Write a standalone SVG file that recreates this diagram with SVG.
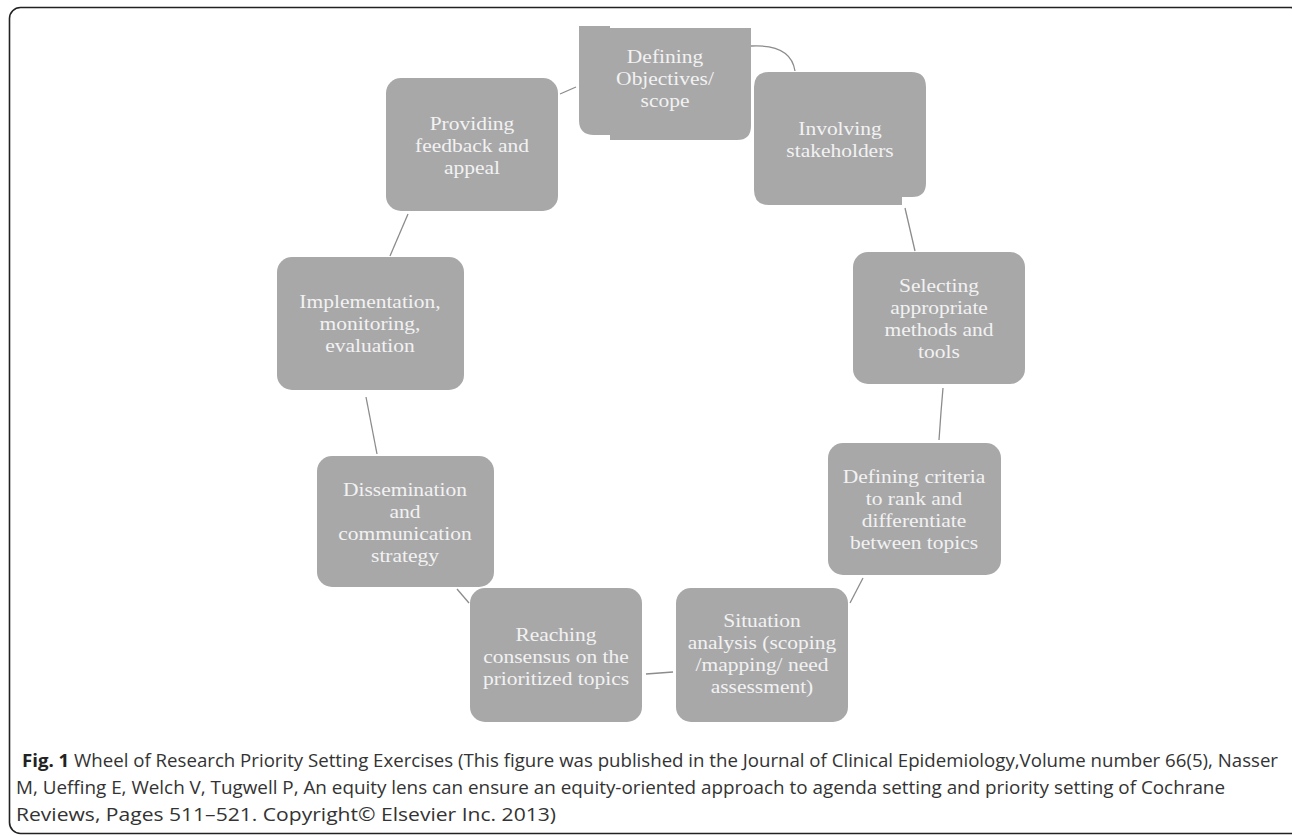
<svg xmlns="http://www.w3.org/2000/svg" width="1292" height="835" viewBox="0 0 1292 835">
<style>
.box{fill:#a8a8a9;}
.lbl{font-family:"Liberation Serif","Times New Roman",serif;font-size:19.8px;fill:#f2f2f2;text-anchor:middle;}
.con{fill:none;stroke:#8c8c8c;stroke-width:1.3;}
.cap{font-family:"Open Sans","Noto Sans",sans-serif;font-size:17.5px;fill:#333;}
</style>
<rect x="9.5" y="7.5" width="1292" height="826" rx="11" fill="#fff" stroke="#222" stroke-width="1.6"/>
<g id="connectors">
<path class="con" d="M560,94 L576,87"/>
<path class="con" d="M751,46 Q791,44 795,71"/>
<path class="con" d="M905,208 L915,251"/>
<path class="con" d="M943,388 L941,412 L939,440"/>
<path class="con" d="M863,578 L850,603"/>
<path class="con" d="M646,674 L673,672"/>
<path class="con" d="M457,589 L469,603"/>
<path class="con" d="M366,397 L377,454"/>
<path class="con" d="M408,214 L390,256"/>
</g>
<g id="n-objectives">
<path class="box" d="M579,26 H610 V28 H751 V126 Q751,140 737,140 H610 V135 H594 Q579,135 579,120 Z"/>
<g transform="translate(665,0) scale(1.085,1)">
<text class="lbl" x="0" y="63">Defining</text>
<text class="lbl" x="0" y="85">Objectives/</text>
<text class="lbl" x="0" y="107">scope</text>
</g>
</g>
<g id="n-stakeholders">
<path class="box" d="M769,72 H911 Q926,72 926,87 V183 Q926,197 912,197 H902 V205 H769 Q754,205 754,190 V87 Q754,72 769,72 Z"/>
<g transform="translate(840,0) scale(1.085,1)">
<text class="lbl" x="0" y="135.5">Involving</text>
<text class="lbl" x="0" y="157.5">stakeholders</text>
</g>
</g>
<g id="n-methods">
<rect class="box" x="853" y="252" width="172" height="132" rx="15"/>
<g transform="translate(939,0) scale(1.085,1)">
<text class="lbl" x="0" y="292">Selecting</text>
<text class="lbl" x="0" y="314">appropriate</text>
<text class="lbl" x="0" y="336">methods and</text>
<text class="lbl" x="0" y="358">tools</text>
</g>
</g>
<g id="n-criteria">
<rect class="box" x="828" y="443" width="173" height="132" rx="15"/>
<g transform="translate(914,0) scale(1.085,1)">
<text class="lbl" x="0" y="483">Defining criteria</text>
<text class="lbl" x="0" y="505">to rank and</text>
<text class="lbl" x="0" y="527">differentiate</text>
<text class="lbl" x="0" y="549">between topics</text>
</g>
</g>
<g id="n-situation">
<rect class="box" x="676" y="588" width="172" height="134" rx="15"/>
<g transform="translate(762,0) scale(1.085,1)">
<text class="lbl" x="0" y="627">Situation</text>
<text class="lbl" x="0" y="649">analysis (scoping</text>
<text class="lbl" x="0" y="671">/mapping/ need</text>
<text class="lbl" x="0" y="693">assessment)</text>
</g>
</g>
<g id="n-consensus">
<rect class="box" x="470" y="588" width="172" height="134" rx="15"/>
<g transform="translate(556,0) scale(1.085,1)">
<text class="lbl" x="0" y="641">Reaching</text>
<text class="lbl" x="0" y="663">consensus on the</text>
<text class="lbl" x="0" y="685">prioritized topics</text>
</g>
</g>
<g id="n-dissemination">
<rect class="box" x="317" y="456" width="177" height="131" rx="15"/>
<g transform="translate(405,0) scale(1.085,1)">
<text class="lbl" x="0" y="496">Dissemination</text>
<text class="lbl" x="0" y="518">and</text>
<text class="lbl" x="0" y="540">communication</text>
<text class="lbl" x="0" y="562">strategy</text>
</g>
</g>
<g id="n-implementation">
<rect class="box" x="277" y="257" width="187" height="133" rx="15"/>
<g transform="translate(370,0) scale(1.085,1)">
<text class="lbl" x="0" y="308">Implementation,</text>
<text class="lbl" x="0" y="330">monitoring,</text>
<text class="lbl" x="0" y="352">evaluation</text>
</g>
</g>
<g id="n-feedback">
<rect class="box" x="386" y="78" width="172" height="133" rx="15"/>
<g transform="translate(472,0) scale(1.085,1)">
<text class="lbl" x="0" y="130">Providing</text>
<text class="lbl" x="0" y="152">feedback and</text>
<text class="lbl" x="0" y="174">appeal</text>
</g>
</g>
<g id="caption">
<text class="cap" x="22" y="767" textLength="1256" lengthAdjust="spacingAndGlyphs"><tspan font-weight="bold" fill="#222">Fig. 1</tspan> Wheel of Research Priority Setting Exercises (This figure was published in the Journal of Clinical Epidemiology,Volume number 66(5), Nasser</text>
<text class="cap" x="16" y="794" textLength="1209" lengthAdjust="spacingAndGlyphs">M, Ueffing E, Welch V, Tugwell P, An equity lens can ensure an equity-oriented approach to agenda setting and priority setting of Cochrane</text>
<text class="cap" x="16" y="821" textLength="540" lengthAdjust="spacingAndGlyphs">Reviews, Pages 511–521. Copyright© Elsevier Inc. 2013)</text>
</g>
</svg>
